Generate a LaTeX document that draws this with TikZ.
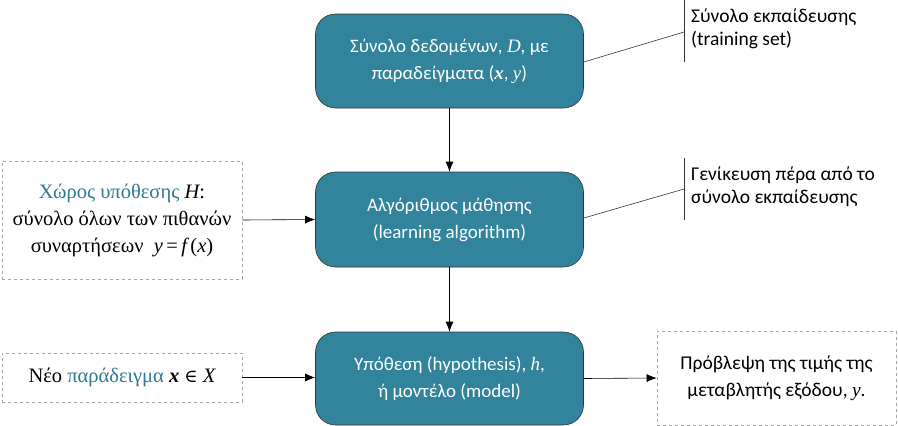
\documentclass[tikz,border=0pt]{standalone}
\usepackage{fontspec}
\setmainfont{Carlito}
\newfontfamily\serifgr{Liberation Serif}
\newfontfamily\symfont{DejaVu Serif}
\usetikzlibrary{arrows.meta,positioning}
\definecolor{teal1}{HTML}{31849B}
\definecolor{tealtext}{HTML}{2E7A93}
\definecolor{dashgray}{HTML}{A6A6A6}
\newcommand{\mi}[1]{{\serifgr\itshape #1}}
\newcommand{\mb}[1]{{\serifgr\bfseries\itshape #1}}
\begin{document}
\begin{tikzpicture}[x=1pt,y=-1pt,
  mainbox/.style={draw=black!80, line width=0.6pt, fill=teal1, rounded corners=20pt, text=white, align=center, font=\fontsize{19}{27}\selectfont},
  sidebox/.style={draw=dashgray, dashed, line width=0.6pt, fill=white, align=center},
  arr/.style={-{Latex[length=10pt,width=8pt]}, line width=0.6pt, black},
  callout/.style={line width=0.6pt, black!80},
  calltext/.style={anchor=north west, align=left, inner sep=0pt, font=\fontsize{19.5}{23}\selectfont}
]
\useasboundingbox (0,0) rectangle (898,426);
% main boxes
\node[mainbox, minimum width=268pt, minimum height=94pt] (data) at (449.5,61) {Σύνολο δεδομένων, \mi{D}, με\\παραδείγματα (\mb{x}, \mi{y})};
\node[mainbox, minimum width=268pt, minimum height=95pt] (alg) at (449.5,219.5) {Αλγόριθμος μάθησης\\(learning algorithm)};
\node[mainbox, minimum width=268pt, minimum height=93pt] (hyp) at (449.5,378.5) {Υπόθεση (hypothesis), \mi{h},\\ή μοντέλο (model)};
% side boxes
\node[sidebox, minimum width=240pt, minimum height=118pt, font=\serifgr\fontsize{20.5}{27}\selectfont] (H) at (122,220) {\textcolor{tealtext}{Χώρος υπόθεσης} \mi{H}:\\σύνολο όλων των πιθανών\\συναρτήσεων\ \ \mi{y}\,=\,\mi{f}\,(\mi{x})};
\node[sidebox, minimum width=240pt, minimum height=49pt, font=\serifgr\fontsize{20.5}{27}\selectfont] (newx) at (122,377.5) {Νέο \textcolor{tealtext}{παράδειγμα} \mb{x} {\symfont\fontsize{18}{20}\selectfont ∈} \mi{X}};
\node[sidebox, minimum width=239pt, minimum height=94pt, font=\fontsize{19.5}{27}\selectfont] (pred) at (776.5,378) {Πρόβλεψη της τιμής της\\μεταβλητής εξόδου, \mi{y}.};
% arrows
\draw[arr] (data.south) -- (alg.north);
\draw[arr] (alg.south) -- (hyp.north);
\draw[arr] (H.east) -- (alg.west);
\draw[arr] (newx.east) -- (hyp.west |- newx.east);
\draw[arr] (hyp.east) -- (pred.west);
% callouts
\coordinate (c1t) at (684,0);
\coordinate (c1b) at (684,62);
\coordinate (c1m) at (684,32);
\draw[callout] (c1t) -- (c1b);
\draw[callout] (data.east |- 0,62) -- (c1m);
\node[calltext] (t1) at (691,9) {Σύνολο εκπαίδευσης\\(training set)};
\coordinate (c2t) at (684,158);
\coordinate (c2b) at (684,220);
\coordinate (c2m) at (684,189);
\draw[callout] (c2t) -- (c2b);
\draw[callout] (alg.east |- 0,218) -- (c2m);
\node[calltext] (t2) at (691,167) {Γενίκευση πέρα από το\\σύνολο εκπαίδευσης};
\end{tikzpicture}
\end{document}
